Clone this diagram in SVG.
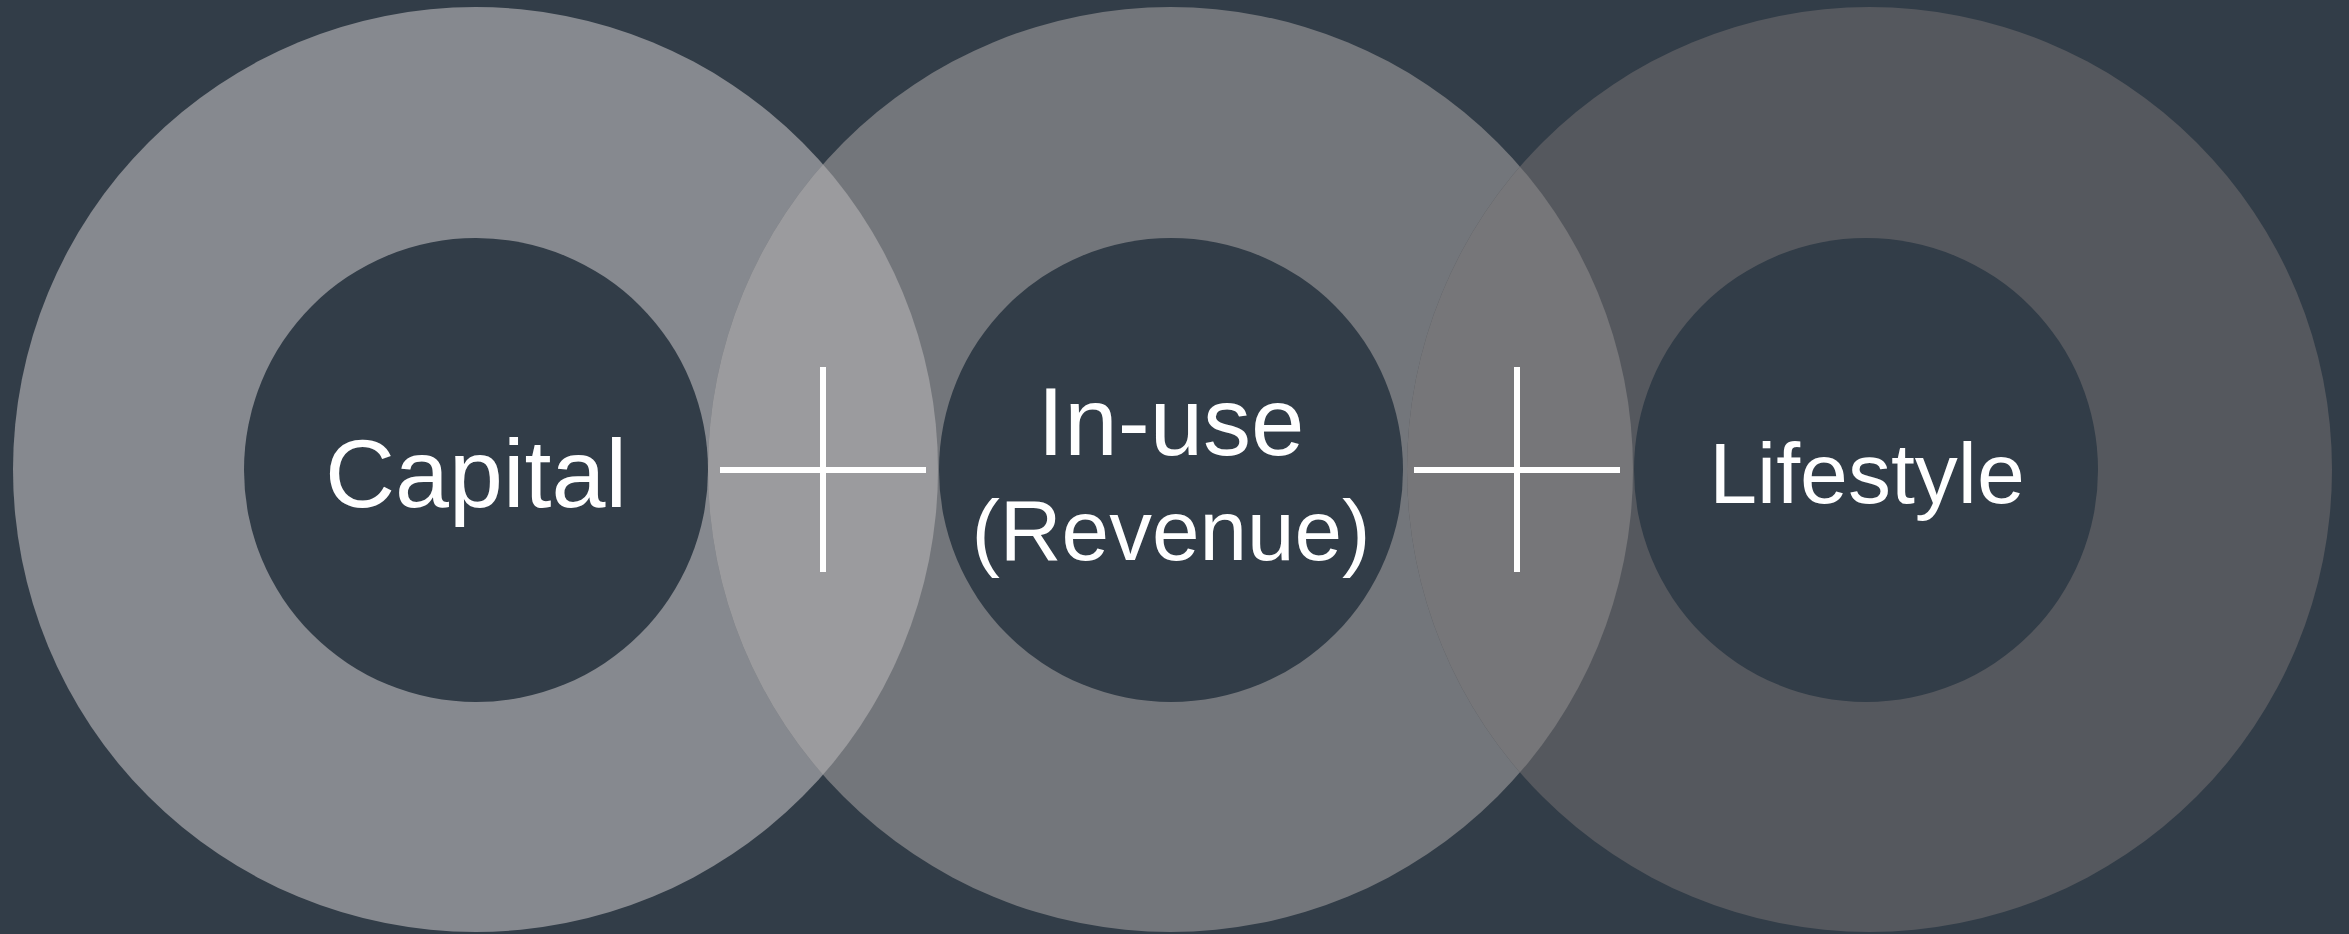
<svg xmlns="http://www.w3.org/2000/svg" width="2349" height="934" viewBox="0 0 2349 934">
  <style>
    .bg { fill: #323d48; }
    .inner { fill: #323d48; }
    .label { fill: #ffffff; font-family: "Liberation Sans", Arial, sans-serif; text-anchor: middle; }
    .plus { stroke: #ffffff; stroke-width: 6; fill: none; }
  </style>
  <defs>
    <clipPath id="clipLeft"><circle cx="475.5" cy="469.5" r="462.5"/></clipPath>
    <clipPath id="clipMid"><circle cx="1170.5" cy="469.5" r="462.5"/></clipPath>
  </defs>
  <rect class="bg" x="0" y="0" width="2349" height="934"/>

  <g id="node-capital">
    <circle cx="475.5" cy="469.5" r="462.5" fill="#86898f"/>
    <circle class="inner" cx="476" cy="470" r="232"/>
    <text class="label" x="476" y="507" font-size="97">Capital</text>
  </g>

  <g id="node-inuse">
    <circle cx="1170.5" cy="469.5" r="462.5" fill="#73767b"/>
    <circle cx="1170.5" cy="469.5" r="462.5" fill="#9b9b9e" clip-path="url(#clipLeft)"/>
    <circle class="inner" cx="1171" cy="470" r="232"/>
    <text class="label" x="1171" y="455" font-size="96">In-use</text>
    <text class="label" x="1171" y="560" font-size="85.5">(Revenue)</text>
  </g>

  <g id="node-lifestyle">
    <circle cx="1869.5" cy="469.5" r="462.5" fill="#55585e"/>
    <circle cx="1869.5" cy="469.5" r="462.5" fill="#767679" clip-path="url(#clipMid)"/>
    <circle class="inner" cx="1866" cy="470" r="232"/>
    <text class="label" x="1867" y="503" font-size="86">Lifestyle</text>
  </g>

  <g id="operators">
    <line class="plus" x1="720" y1="470" x2="926" y2="470"/>
    <line class="plus" x1="823" y1="367" x2="823" y2="572"/>
    <line class="plus" x1="1414" y1="470" x2="1620" y2="470"/>
    <line class="plus" x1="1517" y1="367" x2="1517" y2="572"/>
  </g>
</svg>
